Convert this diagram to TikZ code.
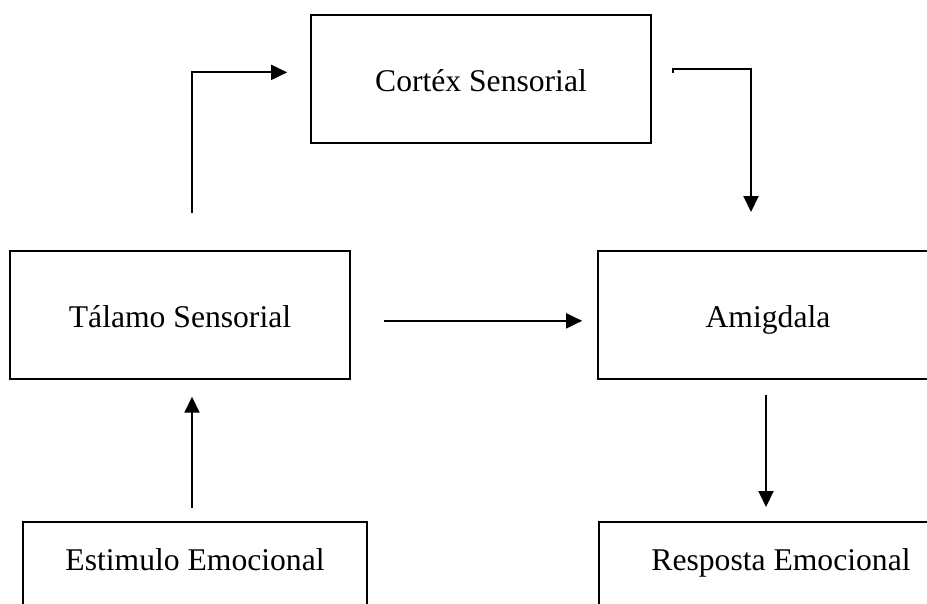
\documentclass[tikz,border=0pt]{standalone}
\usepackage{fontspec}
\setmainfont{Liberation Serif}
\usetikzlibrary{arrows.meta}
\begin{document}
\tikzset{
  box/.style={draw, line width=1pt, inner sep=0pt, anchor=north, minimum width=6.8cm, text height=1.54cm, text depth=1.02cm},
  lowbox/.style={box, text height=0.98cm, text depth=3cm},
  >={Triangle[length=0.32cm, width=0.3cm]}
}
\begin{tikzpicture}[x=0.02cm, y=-0.02cm, font=\fontsize{18}{22}\selectfont, line width=1.1pt]
    \clip (0,0) rectangle (927,603);
    \node[box]                        (C) at (481,14)  {Cortéx Sensorial};
    \node[box]                        (T) at (180,250) {Tálamo Sensorial};
    \node[box]                        (A) at (768,250) {Amigdala};
    \node[lowbox, minimum width=6.88cm] (E) at (195,521) {Estimulo Emocional};
    \node[lowbox, minimum width=7.28cm] (R) at (781,521) {Resposta Emocional};

    \draw[->] ([xshift=0.24cm, yshift=0.74cm]T.north) |- ([xshift=-0.46cm, yshift=0.13cm]C.west);
    \draw[->] ([xshift=0.42cm, yshift=0.11cm]C.east) -- ([xshift=0.42cm, yshift=0.19cm]C.east) -| ([xshift=-0.34cm, yshift=0.76cm]A.north);
    \draw[->] ([xshift=0.66cm, yshift=-0.12cm]T.east) -- ([xshift=-0.3cm, yshift=-0.12cm]A.west);
    \draw[->, shorten <=0.26cm, shorten >=0.34cm] ([xshift=-0.06cm]E.north) -- ([xshift=-0.06cm]E.north |- T.south);
    \draw[->, shorten <=0.3cm, shorten >=0.28cm] ([xshift=-0.04cm]A.south) -- ([xshift=-0.04cm]A.south |- R.north);
\end{tikzpicture}
\end{document}
